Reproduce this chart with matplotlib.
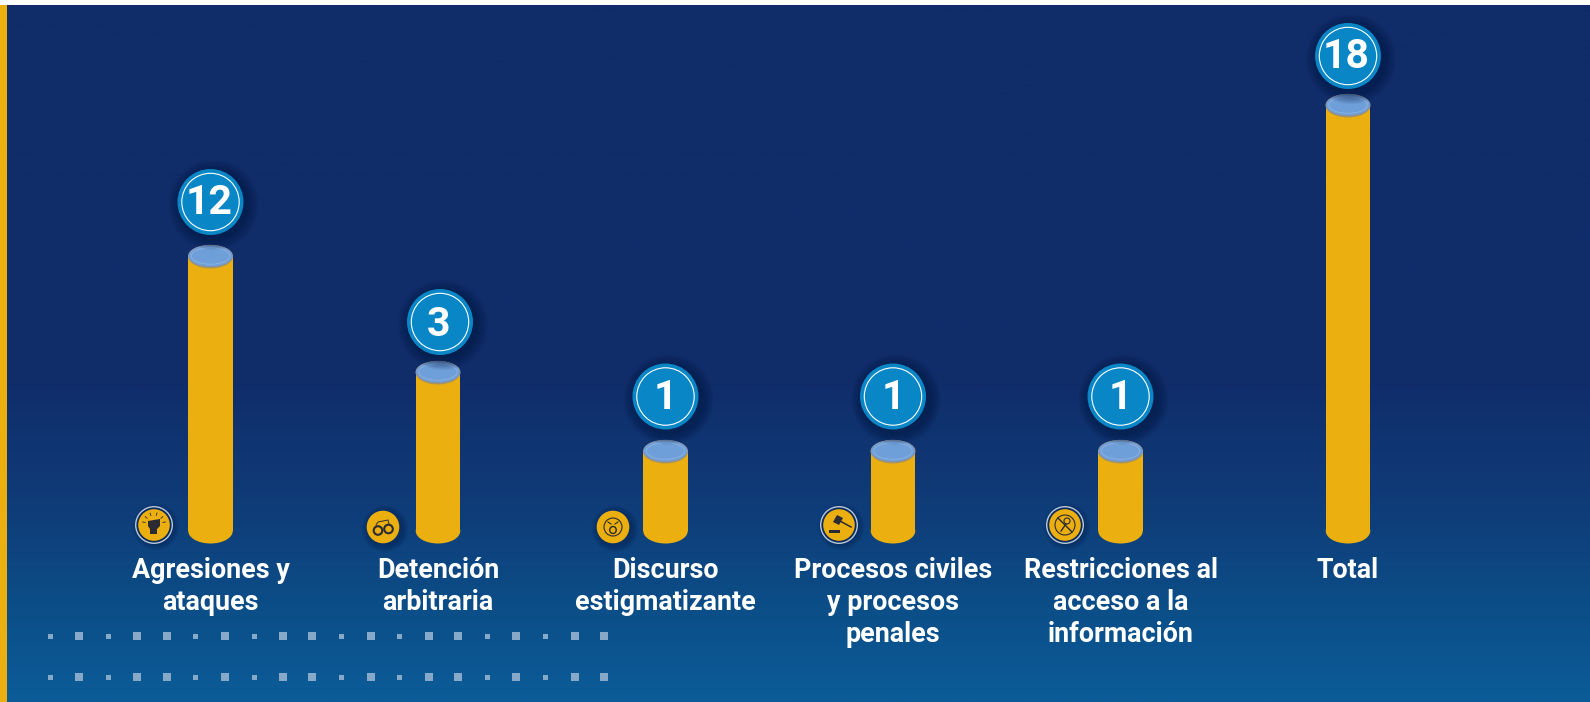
import numpy as np
import matplotlib
matplotlib.use("Agg")
import matplotlib.pyplot as plt
from matplotlib.colors import LinearSegmentedColormap
from matplotlib.patches import Circle, Ellipse, Rectangle, Polygon

# ---- data
categories = ["Agresiones y\nataques", "Detención\narbitraria", "Discurso\nestigmatizante",
              "Procesos civiles\ny procesos\npenales", "Restricciones al\nacceso a la\ninformación", "Total"]
values = [12, 3, 1, 1, 1, 18]

# ---- the original's bars are not proportional: this axis scale reproduces its spacing
scale_values = [0, 1, 3, 12, 18, 22]
scale_pixels = [0, 80, 159, 275, 426, 526]

GOLD = "#EBAF10"
BADGE = "#0886C5"
INK = "#2B2B33"
W, H = 1590, 702
BASE_Y = 531
plt.rcParams["font.family"] = ["Roboto", "DejaVu Sans"]

fig = plt.figure(figsize=(W / 100, H / 100), dpi=100, facecolor="white")

# ---- background
bg = fig.add_axes([0, 0, 1, 1], zorder=0)
cmap = LinearSegmentedColormap.from_list("bg", [
    (0.0, "#102C69"), (0.55, "#102E6B"), (0.72, "#0F3C78"), (0.85, "#0C4C86"), (1.0, "#0B5C98")])
bg.imshow(np.linspace(0, 1, 700)[:, None], cmap=cmap, aspect="auto", extent=(0, W, H, 5))
bg.set_xlim(0, W); bg.set_ylim(H, 0); bg.axis("off")
bg.add_patch(Rectangle((0, 5), 7, H, color=GOLD, lw=0))

# decorative squares
small_sq, large_sq = 5, 8
for row_y in (636, 677):
    for i in range(20):
        s = small_sq if i % 5 in (0, 2) else large_sq
        bg.add_patch(Rectangle((50 + 29.15 * i - s / 2, row_y - s / 2), s, s, color="#86A9CA", lw=0))

# ---- chart
ax = fig.add_axes([0, (H - BASE_Y) / H, 1, (BASE_Y - 5) / H], zorder=1)
ax.patch.set_alpha(0)
ax.set_yscale("function", functions=(
    lambda v: np.interp(v, scale_values, scale_pixels),
    lambda p: np.interp(p, scale_pixels, scale_values)))
ax.set_ylim(0, 22)
step, x0 = 227.5, 210.5
ax.set_xlim(-x0 / step, (W - x0) / step)
xs = np.arange(len(values))
ax.bar(xs, values, width=44.5 / step, color=GOLD, linewidth=0)
ax.set_xticks(xs, categories, fontsize=19.4, fontweight="bold", color="white", linespacing=1.235)
ax.tick_params(axis="x", length=0, pad=19)
ax.set_yticks([])
ax.minorticks_off()
for s in ax.spines.values():
    s.set_visible(False)

# ---- overlay in pixels
ov = fig.add_axes([0, 0, 1, 1], zorder=2)
ov.set_xlim(0, W); ov.set_ylim(H, 0); ov.axis("off"); ov.patch.set_alpha(0)


def shadow(cx, cy, r, reach=12, off=3):
    for k in range(reach, 0, -1):
        ov.add_patch(Circle((cx + off, cy + off), r + k, color="#061A45", alpha=0.065, lw=0))


gap = [54, 50, 54.5, 54.5, 54.5, 49]
badge_dx = [0, 2, 0, 0, 0, 0]
digit_dx = [-1, -1, 0, 0, 0, -2]
digit_dy = [-2.5, -1, -2.5, -2.5, -2.5, -2.5]
for i, v in enumerate(values):
    px = ax.transData.transform((xs[i], v))
    cx, top = px[0], H - px[1]
    # bottom cap
    ov.add_patch(Ellipse((cx, BASE_Y), 44.5, 25, color=GOLD, lw=0))
    # top rim and lid
    ov.add_patch(Ellipse((cx, top + 0.7), 44.5, 23.5, facecolor="#A8945A", lw=0))
    ov.add_patch(Ellipse((cx, top), 44, 21.5, facecolor="#6FA0D9", edgecolor="#8A93A8", lw=0.6))
    ov.add_patch(Ellipse((cx, top), 38.5, 16.5, facecolor="#6E9FD8", edgecolor="#8DB3E2", lw=0.6))
    # badge
    bx, by = cx + badge_dx[i], top - gap[i]
    shadow(bx, by, 33)
    ov.add_patch(Circle((bx, by), 33, color=BADGE, lw=0))
    ov.add_patch(Circle((bx, by), 28.7, fill=False, edgecolor="white", lw=0.8))
    ov.text(bx + digit_dx[i], by + digit_dy[i], str(v), ha="center", va="center_baseline", color="white",
            fontsize=29.5, fontweight="bold")


def disc(cx, cy, ring):
    shadow(cx, cy, 16.5, reach=7, off=2)
    if ring:
        ov.add_patch(Circle((cx, cy), 18.3, fill=False, edgecolor="#B9C7DA", lw=1))
        ov.add_patch(Circle((cx, cy), 16.6, color="#13264F", lw=0))
    ov.add_patch(Circle((cx, cy), 15.8 if ring else 16.3, color=GOLD, lw=0))


# fist
cx, cy = 154, 525
disc(cx, cy, True)
ov.add_patch(Polygon([(cx - 6, cy - 4), (cx + 6, cy - 6), (cx + 6, cy + 1), (cx + 3, cy + 4), (cx + 3, cy + 9),
                      (cx - 4, cy + 9), (cx - 4, cy + 4), (cx - 6, cy + 1)], color=INK, lw=0))
for a in np.radians([-170, -140, -110, -75, -40, -10]):
    ov.plot([cx + 9 * np.cos(a), cx + 11.5 * np.cos(a)], [cy - 1 + 9 * np.sin(a), cy - 1 + 11.5 * np.sin(a)], color=INK, lw=0.6)

# handcuffs
cx, cy = 383, 527
disc(cx, cy, False)
ov.add_patch(Circle((cx - 5, cy + 3.5), 4.3, fill=False, edgecolor=INK, lw=1.5))
ov.add_patch(Circle((cx + 5.5, cy + 2), 4.3, fill=False, edgecolor=INK, lw=1.5))
ov.plot([cx - 7, cx - 5, cx, cx + 5, cx + 6], [cy - 2, cy - 5, cy - 6, cy - 7, cy - 3], color=INK, lw=0.7)

# face
cx, cy = 613, 527
disc(cx, cy, False)
ov.add_patch(Circle((cx, cy), 9, fill=False, edgecolor=INK, lw=0.8))
ov.add_patch(Ellipse((cx, cy + 3), 6.5, 7, fill=False, edgecolor=INK, lw=1))
ov.plot([cx - 5, cx - 2], [cy - 5, cy - 3], color=INK, lw=0.8)
ov.plot([cx + 5, cx + 2], [cy - 5, cy - 3], color=INK, lw=0.8)

# gavel
cx, cy = 839, 525
disc(cx, cy, True)
ov.add_patch(Polygon([(cx - 6, cy - 3), (cx - 2, cy - 10), (cx + 4, cy - 7), (cx, cy)], color=INK, lw=0))
ov.plot([cx + 1, cx + 12], [cy - 4, cy + 2], color=INK, lw=1.1)
ov.add_patch(Rectangle((cx - 10, cy + 5), 11, 3, color=INK, lw=0))

# no-sign
cx, cy = 1065, 525
disc(cx, cy, True)
ov.add_patch(Circle((cx, cy), 10, fill=False, edgecolor=INK, lw=0.8))
ov.plot([cx - 7, cx + 7], [cy - 7, cy + 7], color=INK, lw=1)
ov.add_patch(Circle((cx + 2, cy - 4), 3, fill=False, edgecolor=INK, lw=0.8))
ov.plot([cx + 1, cx - 4], [cy - 1, cy + 6], color=INK, lw=1)

fig.savefig("out.png", dpi=100, facecolor="white")
